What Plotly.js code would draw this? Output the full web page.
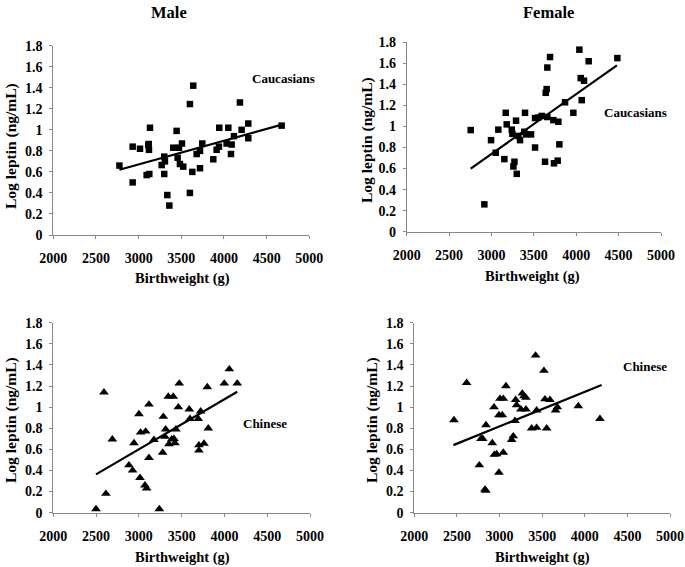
<!DOCTYPE html>
<html><head><meta charset="utf-8">
<script src="https://cdn.plot.ly/plotly-3.0.1.min.js"></script>
<style>body{margin:0;background:#fff}#chart{width:685px;height:567px}</style>
</head><body><div id="chart"></div>
<script>
// Male, Caucasians
const maleCauX = [2775,2930,2930,3016,3094,3125,3113,3121,3133,3118,3270,3300,3308,3300,3336,3360,3406,3445,3457,3473,3484,3508,3523,3601,3640,3601,3629,3680,3719,3746,3719,3875,3914,3941,3945,4051,4031,4090,4082,4117,4187,4207,4285,4285,4676];
const maleCauY = [0.66,0.84,0.50,0.82,0.57,0.58,0.855,0.81,1.02,0.865,0.665,0.745,0.70,0.58,0.38,0.28,0.83,0.99,0.735,0.83,0.675,0.87,0.65,1.245,1.42,0.40,0.60,0.77,0.80,0.87,0.635,0.72,0.81,0.84,1.02,1.02,0.87,0.86,0.77,0.94,1.26,1.00,1.06,0.92,1.04];
const maleCauFitX = [2775,4680];
const maleCauFitY = [0.62,1.05];
// Female, Caucasians
const femCauX = [2755,2916,2995,3050,3081,3152,3168,3180,3239,3247,3259,3271,3298,3290,3318,3337,3396,3408,3467,3388,3514,3514,3553,3593,3632,3640,3651,3659,3659,3691,3730,3738,3789,3781,3801,3868,3966,4037,4053,4092,4065,4147,4485];
const femCauY = [0.966,0.26,0.87,0.75,0.97,0.69,1.13,1.02,0.97,0.93,0.62,0.665,0.55,1.055,0.91,0.87,1.13,0.925,0.925,0.95,1.08,0.80,1.085,1.10,0.665,1.32,1.355,1.56,1.09,1.66,1.06,0.65,1.045,0.675,0.83,1.23,1.13,1.73,1.46,1.435,1.25,1.62,1.65];
const femCauFitX = [2755,4480];
const femCauFitY = [0.60,1.58];
// Male, Chinese
const maleChiX = [2499,2592,2615,2690,2884,2927,2943,3001,3013,3020,3079,3071,3091,3118,3118,3176,3239,3286,3278,3313,3305,3344,3352,3383,3402,3410,3422,3433,3461,3472,3589,3597,3694,3702,3702,3722,3761,3800,3811,3998,4057,4150];
const maleChiY = [0.035,1.14,0.18,0.695,0.45,0.40,0.66,0.935,0.33,0.76,0.77,0.26,0.23,1.026,0.52,0.69,0.035,0.91,0.57,0.79,0.72,1.10,0.65,0.695,1.10,0.70,0.66,0.79,1.00,1.225,0.98,0.89,0.89,0.64,0.59,0.96,0.655,1.19,0.80,1.225,1.36,1.225];
const maleChiFitX = [2499,4150];
const maleChiFitY = [0.363,1.146];
// Female, Chinese
const femChiX = [2465,2614,2763,2782,2802,2829,2837,2841,2915,2935,2939,2966,2993,2993,3005,3032,3044,3044,3075,3142,3161,3181,3189,3200,3251,3267,3287,3310,3310,3377,3435,3423,3435,3521,3533,3553,3592,3658,3678,3924,4178];
const femChiY = [0.878,1.23,0.45,0.70,0.70,0.22,0.21,0.83,0.66,1.00,0.55,0.555,0.38,0.925,1.08,0.925,1.08,0.57,1.20,0.69,0.725,0.87,1.07,1.02,0.98,1.13,1.105,1.09,0.98,0.80,0.97,1.49,0.805,1.345,1.075,0.80,1.07,0.97,1.00,1.01,0.89];
const femChiFitX = [2458,4198];
const femChiFitY = [0.64,1.21];

const xTicks = [2000,2500,3000,3500,4000,4500,5000];
const yTicks = [0,0.2,0.4,0.6,0.8,1,1.2,1.4,1.6,1.8];
const yTickText = ['0','0.2','0.4','0.6','0.8','1','1.2','1.4','1.6','1.8'];

const W = 685, H = 567;
const px = x => x / W;
const py = y => 1 - y / H;
const FONT = 'Liberation Serif, Times New Roman, serif';

function scatter(x, y, sym, size, xa, ya) {
  return {x, y, type: 'scatter', mode: 'markers', xaxis: xa, yaxis: ya, cliponaxis: false,
    marker: {symbol: sym, size: size, color: '#000'}, showlegend: false, hoverinfo: 'skip'};
}
function fit(x, y, xa, ya) {
  return {x, y, type: 'scatter', mode: 'lines', xaxis: xa, yaxis: ya, cliponaxis: false,
    line: {color: '#000', width: 2.2}, showlegend: false, hoverinfo: 'skip'};
}
const traces = [
  scatter(maleCauX, maleCauY, 'square', 6.5, 'x', 'y'), fit(maleCauFitX, maleCauFitY, 'x', 'y'),
  scatter(femCauX, femCauY, 'square', 6.5, 'x2', 'y2'), fit(femCauFitX, femCauFitY, 'x2', 'y2'),
  scatter(maleChiX, maleChiY, 'triangle-up', 8.5, 'x3', 'y3'), fit(maleChiFitX, maleChiFitY, 'x3', 'y3'),
  scatter(femChiX, femChiY, 'triangle-up', 8.5, 'x4', 'y4'), fit(femChiFitX, femChiFitY, 'x4', 'y4'),
];

function xaxis(x0, x1, ya) {
  return {domain: [px(x0), px(x1)], anchor: ya, range: [2000, 5000], tickvals: xTicks,
    showgrid: false, zeroline: false, showline: true, linecolor: '#888', linewidth: 1,
    ticks: 'outside', ticklen: 3, tickcolor: '#888', ticklabelstandoff: 7,
    tickfont: {family: FONT, size: 14, color: '#000', weight: 'bold'}, fixedrange: true};
}
function yaxis(y0, y1, xa) {
  return {domain: [py(y0), py(y1)], anchor: xa, range: [0, 1.8], tickvals: yTicks, ticktext: yTickText,
    showgrid: false, zeroline: false, showline: true, linecolor: '#888', linewidth: 1,
    ticks: 'outside', ticklen: 3, tickcolor: '#888', ticklabelstandoff: 4,
    tickfont: {family: FONT, size: 14, color: '#000', weight: 'bold'}, fixedrange: true};
}

function ann(text, x, y, size, extra) {
  return Object.assign({text: '<b>' + text + '</b>', x: px(x), y: py(y), xref: 'paper', yref: 'paper',
    showarrow: false, xanchor: 'center', yanchor: 'middle',
    font: {family: FONT, size: size, color: '#000'}}, extra || {});
}

const layout = {
  width: W, height: H, margin: {l: 0, r: 0, t: 0, b: 0},
  paper_bgcolor: '#fff', plot_bgcolor: '#fff', showlegend: false,
  xaxis: xaxis(53.3, 309.3, 'y'), yaxis: yaxis(235, 45.7, 'x'),
  xaxis2: xaxis(406.7, 661, 'y2'), yaxis2: yaxis(231.7, 42.3, 'x2'),
  xaxis3: xaxis(53.3, 310, 'y3'), yaxis3: yaxis(512.7, 322.7, 'x3'),
  xaxis4: xaxis(414.3, 670, 'y4'), yaxis4: yaxis(512.7, 322.7, 'x4'),
  annotations: [
    ann('Male', 169, 12, 16.5),
    ann('Female', 548, 12, 16.5),
    ann('Caucasians', 283, 78, 13),
    ann('Caucasians', 635, 113, 13),
    ann('Chinese', 265, 423, 13),
    ann('Chinese', 645, 366, 13),
    ann('Birthweight (g)', 182, 278, 14.5),
    ann('Birthweight (g)', 532, 276, 14.5),
    ann('Birthweight (g)', 182, 557, 14.5),
    ann('Birthweight (g)', 542, 557, 14.5),
    ann('Log leptin (ng/mL)', 11, 146, 15.5, {textangle: -90}),
    ann('Log leptin (ng/mL)', 367, 140, 15.5, {textangle: -90}),
    ann('Log leptin (ng/mL)', 11, 420, 15.5, {textangle: -90}),
    ann('Log leptin (ng/mL)', 372, 420, 15.5, {textangle: -90}),
  ]
};
Plotly.newPlot('chart', traces, layout, {staticPlot: true, displayModeBar: false});
</script></body></html>
